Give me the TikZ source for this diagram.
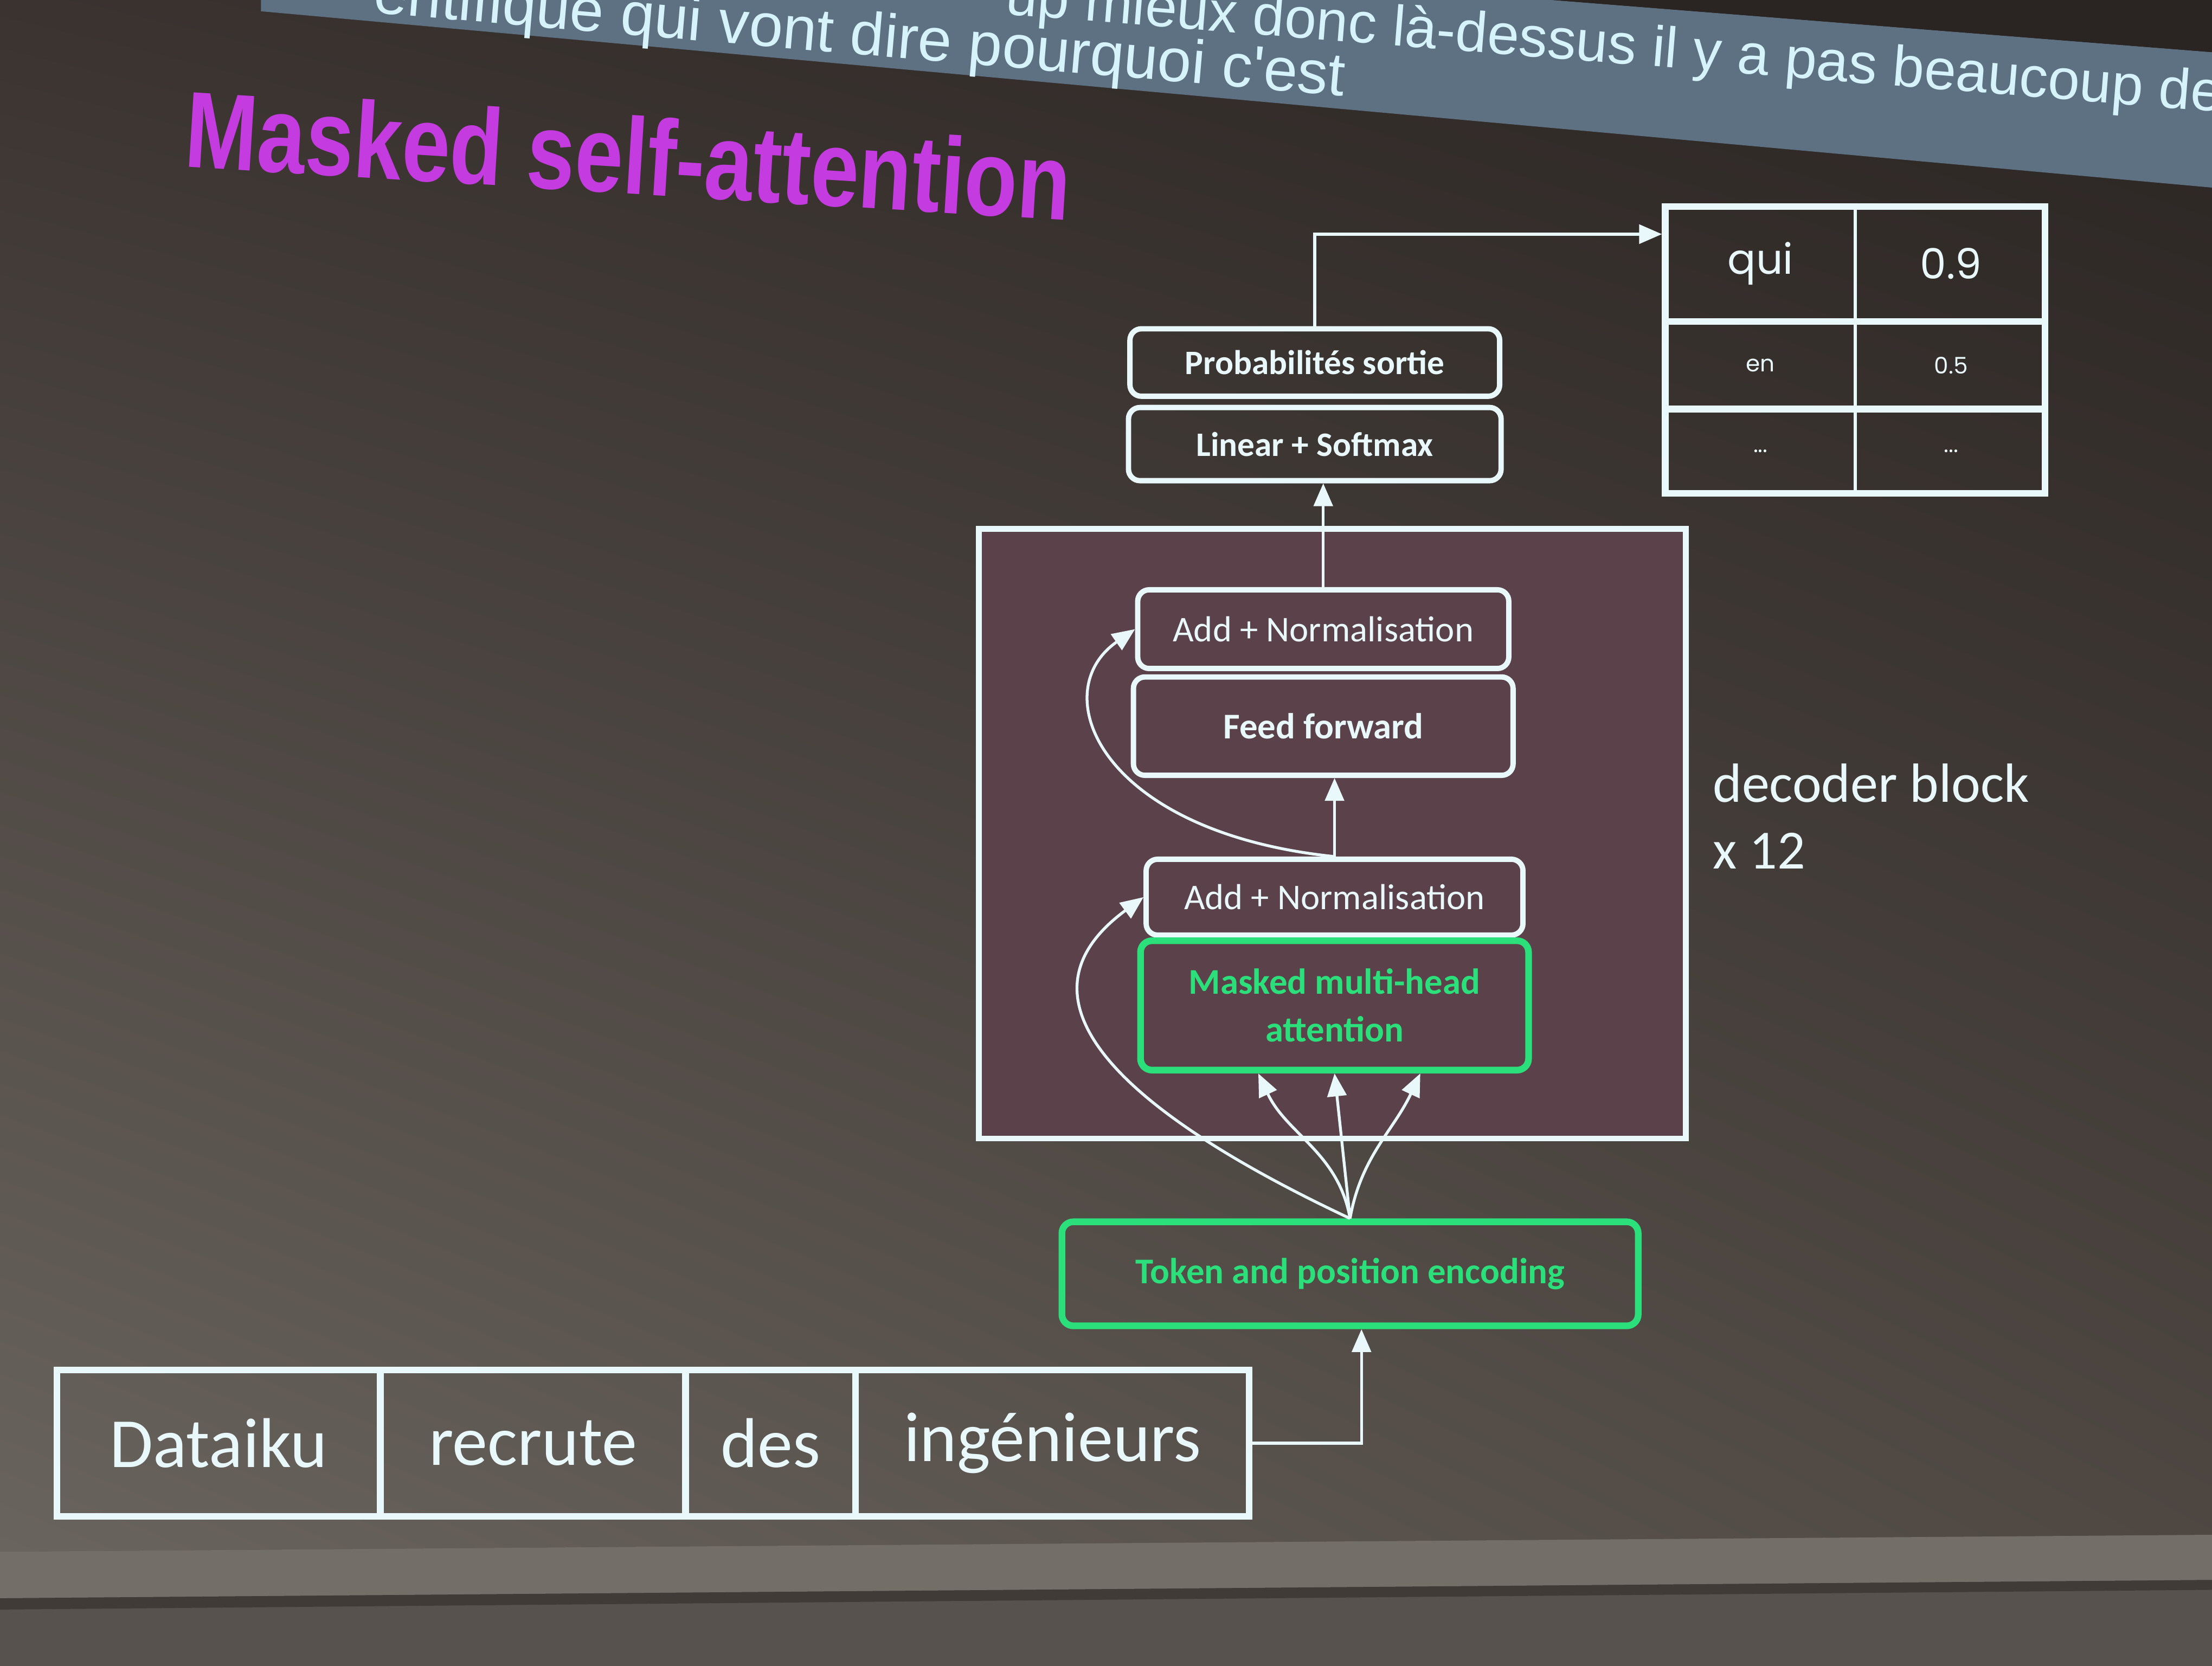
\documentclass[tikz,border=0pt]{standalone}
\usepackage{fontspec}
\setmainfont{Carlito}
\newfontfamily\titlefont{Liberation Sans}
\newfontfamily\tabfont{Poppins}
\usetikzlibrary{positioning,arrows.meta,shadings}
\newcommand{\fsz}[2]{\fontsize{#1}{#2}\selectfont}

\definecolor{wall}{HTML}{57524D}
\definecolor{strip}{HTML}{736E68}
\definecolor{edge}{HTML}{403B37}
\definecolor{slideTL}{HTML}{3A3330}
\definecolor{slideTR}{HTML}{2A2422}
\definecolor{slideBL}{HTML}{6A645E}
\definecolor{slideBR}{HTML}{4E4742}
\definecolor{banner}{HTML}{5E7182}
\definecolor{bantext}{HTML}{D6F2FA}
\definecolor{decfill}{HTML}{5B414A}
\definecolor{wline}{HTML}{E9F8FB}
\definecolor{grn}{HTML}{2BE07A}
\definecolor{mag}{HTML}{C43BE0}

\tikzset{
  blk/.style={draw=wline, line width=2.8pt, rounded corners=6pt, fill=decfill, text=wline,
    align=center, inner sep=2pt, font=\fsz{19pt}{25pt}},
  outblk/.style={blk, fill=none, font=\bfseries\fsz{18pt}{22pt}},
  grnblk/.style={blk, draw=grn, text=grn, line width=3.5pt, font=\bfseries\fsz{19pt}{25pt}},
  word/.style={draw=wline, line width=3.5pt, minimum height=76.7pt, text=wline,
    font=\fsz{37pt}{40pt}, inner sep=0pt},
  cell/.style={text=wline, inner sep=0pt, font=\tabfont\fsz{22pt}{24pt}},
  smallcell/.style={cell, font=\tabfont\fsz{12pt}{14pt}},
  caption/.style={anchor=base west, text=bantext, inner sep=0pt},
  arr/.style={draw=wline, line width=1.5pt, -{Triangle[length=12pt,width=10pt]}},
}

\begin{document}
\begin{tikzpicture}[x=0.02602cm, y=0.02602cm]
  \useasboundingbox (0,0) rectangle (1568,1181);
  \clip (0,0) rectangle (1568,1181);
  % screen and wall
  \fill[wall] (0,0) rectangle (1568,1181);
  \shade[upper left=slideTL, upper right=slideTR, lower left=slideBL, lower right=slideBR]
    (0,81) -- (1568,93) -- (1568,1181) -- (0,1181) -- cycle;
  \fill[strip] (0,81) -- (1568,93) -- (1568,61) -- (0,48) -- cycle;
  \fill[edge] (0,48) -- (1568,61) -- (1568,54) -- (0,40) -- cycle;
  \fill[banner] (185,1181) -- (1100,1181) -- (1568,1144) -- (1568,1048) -- (185,1173) -- cycle;
  \fill[slideTR] (1100,1181) -- (1568,1181) -- (1568,1144) -- cycle;
  \node[caption, rotate=-4.6, font=\titlefont\fsz{30pt}{32pt}]
    (cap1) at (712,1171) {up mieux donc là-dessus il y a pas beaucoup de};
  \node[caption, rotate=-4.9, font=\titlefont\fsz{32pt}{35pt}]
    (cap2) at (264,1172) {entifique qui vont dire pourquoi c'est};
  \node[anchor=base west, rotate=-3.5, text=mag, inner sep=0pt, font=\titlefont\bfseries\fsz{45.5pt}{50pt}]
    (title) at (130,1063) {\scalebox{1}[1.25]{Masked self-attention}};

  % decoder block
  \node[draw=wline, line width=3pt, fill=decfill, minimum width=371pt, minimum height=320pt] (dec) at (944.5,590) {};
  \node[anchor=north west, align=left, text=wline, inner sep=0pt, font=\fsz{29pt}{35pt}]
    (declbl) at (1214,640) {decoder block\\x 12};

  \node[outblk, minimum width=194pt, minimum height=35.4pt] (prob) at (932,924) {Probabilités sortie};
  \node[outblk, on grid, below=42.8pt of prob, minimum width=195.5pt, minimum height=38.4pt] (lin) {Linear + Softmax};
  \node[blk, minimum width=194.7pt, minimum height=41.3pt] (addA) at (938,735) {Add + Normalisation};
  \node[blk, font=\bfseries\fsz{19pt}{25pt}, on grid, below=50.9pt of addA,
    minimum width=199.2pt, minimum height=51.6pt] (ff) {Feed forward};
  \node[blk, minimum width=197.7pt, minimum height=39.8pt] (addB) at (946,545) {Add + Normalisation};
  \node[grnblk, on grid, below=56.8pt of addB, minimum width=203.6pt, minimum height=67.9pt] (mha) {Masked multi-head\\attention};
  \node[grnblk, fill=none, minimum width=302.4pt, minimum height=54.6pt] (tok) at (957,278) {Token and position encoding};

  % output table
  \node[draw=wline, line width=3.5pt, minimum width=199.2pt, minimum height=150.5pt] (tab) at (1315,933) {};
  \draw[wline, line width=1.8pt] (tab.north) -- (tab.south);
  \draw[wline, line width=3.5pt] (tab.west |- 0,953) -- (tab.east |- 0,953);
  \draw[wline, line width=3.5pt] (tab.west |- 0,891) -- (tab.east |- 0,891);
  \node[cell] (qui) at (1248,994) {qui};
  \node[cell] (pqui) at (1383,994) {0.9};
  \node[smallcell] (en) at (1248,922) {en};
  \node[smallcell] (pen) at (1383,922) {0.5};
  \node[smallcell] (etc) at (1248,861) {...};
  \node[smallcell] (petc) at (1383,861) {...};

  % input words
  \node[word, minimum width=169.6pt] (w1) at (155,158) {Dataiku};
  \node[word, on grid, right=164.9pt of w1, minimum width=160.1pt] (w2) {recrute};
  \node[word, on grid, right=124.7pt of w2, minimum width=89.2pt] (w3) {des};
  \node[word, on grid, right=147.9pt of w3, minimum width=206.5pt] (w4) {ingénieurs};

  % connections
  \draw[arr] (w4.east) -| ([xshift=6pt]tok.south);
  \draw[arr] (tok.north) to[out=100,in=-65] ([xshift=-40pt]mha.south);
  \draw[arr] (tok.north) -- (mha.south);
  \draw[arr] (tok.north) to[out=80,in=-115] ([xshift=45pt]mha.south);
  \draw[arr] (tok.north) .. controls (800,391) and (710,471) .. (addB.west);
  \draw[arr] (addB.north) -- (addB.north |- ff.south);
  \draw[arr] (addB.north) .. controls (780,591) and (740,690) .. (addA.west);
  \draw[arr] (addA.north) -- (addA.north |- lin.south);
  \draw[arr] (prob.north) |- (tab.west |- 0,1015);
\end{tikzpicture}
\end{document}
